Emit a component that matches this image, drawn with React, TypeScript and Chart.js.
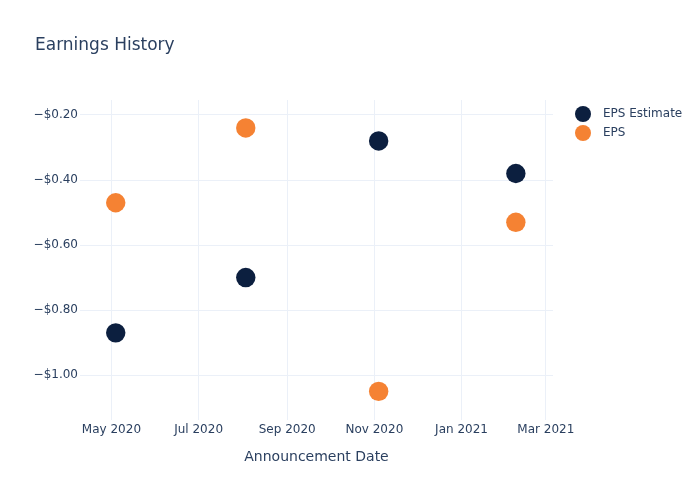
import React, { useEffect, useRef } from "react";
import { Chart, registerables } from "chart.js";

Chart.register(...registerables);

const announcementDates = ["2020-05-04", "2020-08-03", "2020-11-04", "2021-02-08"];
const epsEstimate = [-0.87, -0.7, -0.28, -0.38];
const epsActual = [-0.47, -0.24, -1.05, -0.53];
const xTickDates = ["2020-05-01", "2020-07-01", "2020-09-01", "2020-11-01", "2021-01-01", "2021-03-01"];
const xTickLabels = ["May 2020", "Jul 2020", "Sep 2020", "Nov 2020", "Jan 2021", "Mar 2021"];
const yTickValues = [-1.0, -0.8, -0.6, -0.4, -0.2];
const seriesNames = ["EPS Estimate", "EPS"];
const seriesColors = ["#0c1f3f", "#f58233"];

const ts = (s: string) => Date.parse(s + "T00:00:00Z");
const FONT = "'DejaVu Sans', sans-serif";
const TEXT = "#2a3f5f";
const GRID = "#ebf0f8";

const overlay = {
  id: "overlay",
  afterDraw(chart: any) {
    const ctx = chart.ctx;
    ctx.save();
    ctx.fillStyle = TEXT;
    ctx.font = `17px ${FONT}`;
    ctx.textBaseline = "alphabetic";
    ctx.textAlign = "left";
    ctx.fillText("Earnings History", 35, 50);
    ctx.font = `12px ${FONT}`;
    ctx.textBaseline = "middle";
    chart.data.datasets.forEach((ds: any, i: number) => {
      const y = 114 + i * 19;
      ctx.beginPath();
      ctx.arc(583, y, 8, 0, Math.PI * 2);
      ctx.fillStyle = ds.backgroundColor;
      ctx.fill();
      ctx.fillStyle = TEXT;
      ctx.fillText(ds.label, 603, y);
    });
    ctx.restore();
  },
};

export default function App() {
  const ref = useRef<HTMLCanvasElement>(null);
  useEffect(() => {
    document.body.style.margin = "0";
    const chart = new Chart(ref.current!, {
      type: "scatter",
      data: {
        datasets: [
          {
            label: seriesNames[0],
            data: announcementDates.map((d, i) => ({ x: ts(d), y: epsEstimate[i] })),
            backgroundColor: seriesColors[0],
            pointBackgroundColor: seriesColors[0],
            pointBorderWidth: 0,
            pointRadius: 9.7,
          },
          {
            label: seriesNames[1],
            data: announcementDates.map((d, i) => ({ x: ts(d), y: epsActual[i] })),
            backgroundColor: seriesColors[1],
            pointBackgroundColor: seriesColors[1],
            pointBorderWidth: 0,
            pointRadius: 9.7,
          },
        ],
      },
      options: {
        animation: false,
        responsive: false,
        layout: { padding: { top: 100, left: 0, right: 147, bottom: 30 } },
        plugins: { legend: { display: false }, tooltip: { enabled: false }, title: { display: false } },
        scales: {
          x: {
            type: "linear",
            min: ts("2020-04-09"),
            max: ts("2021-03-06"),
            afterBuildTicks: (s: any) => {
              s.ticks = xTickDates.map((d) => ({ value: ts(d) }));
            },
            afterFit: (s: any) => {
              s.height = 50;
            },
            ticks: {
              callback: (v: any) => {
                const i = xTickDates.findIndex((d) => ts(d) === v);
                return i >= 0 ? xTickLabels[i] : "";
              },
              font: { family: FONT, size: 12 },
              color: TEXT,
              padding: 3,
              maxRotation: 0,
              autoSkip: false,
            },
            grid: { color: GRID, drawTicks: false, lineWidth: 1 },
            border: { display: false },
            title: {
              display: true,
              text: "Announcement Date",
              font: { family: FONT, size: 14 },
              color: TEXT,
              padding: { top: 12 },
            },
          },
          y: {
            type: "linear",
            min: -1.138,
            max: -0.154,
            afterBuildTicks: (s: any) => {
              s.ticks = yTickValues.map((v) => ({ value: v }));
            },
            afterFit: (s: any) => {
              s.width = 80;
            },
            ticks: {
              callback: (v: any) => "\u2212$" + Math.abs(Number(v)).toFixed(2),
              font: { family: FONT, size: 12 },
              color: TEXT,
              padding: 2,
            },
            grid: { color: GRID, drawTicks: false, lineWidth: 1 },
            border: { display: false },
          },
        },
      },
      plugins: [overlay],
    });
    return () => chart.destroy();
  }, []);
  return (
    <div style={{ width: 700, height: 500 }}>
      <canvas ref={ref} width={700} height={500} style={{ display: "block" }} />
    </div>
  );
}
